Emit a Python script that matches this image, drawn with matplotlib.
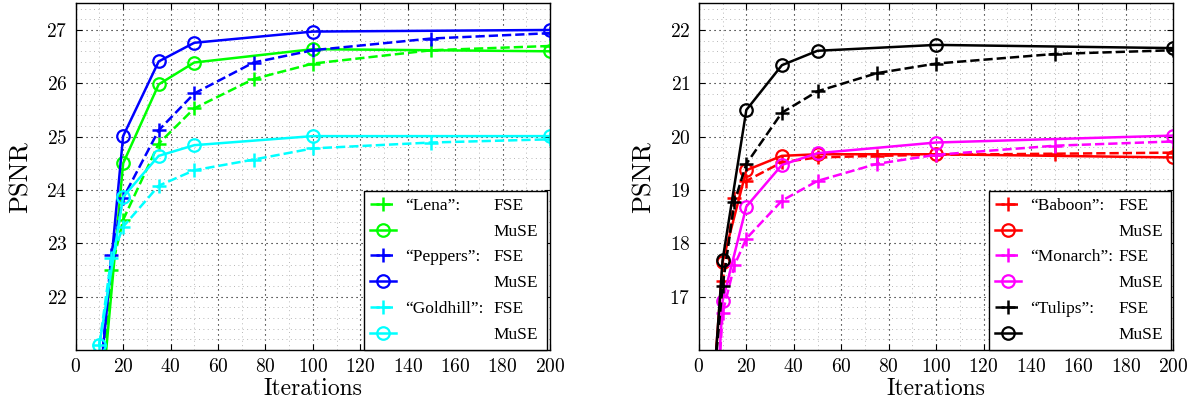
import matplotlib
matplotlib.use('Agg')
import matplotlib.pyplot as plt
from matplotlib.ticker import MultipleLocator

plt.rcParams['font.family'] = ['Liberation Serif', 'DejaVu Serif']
plt.rcParams['axes.formatter.use_mathtext'] = True

# left panel
iters_fse_left = [10, 15, 20, 35, 50, 75, 100, 150, 200]
iters_muse_left = [10, 20, 35, 50, 100, 200]
lena_fse = [19.6, 22.5, 23.44, 24.87, 25.53, 26.08, 26.37, 26.62, 26.70]
lena_muse = [19.6, 24.5, 25.98, 26.39, 26.64, 26.60]
peppers_fse = [20.3, 22.78, 23.85, 25.12, 25.81, 26.39, 26.62, 26.84, 26.94]
peppers_muse = [20.3, 25.01, 26.41, 26.76, 26.97, 27.0]
goldhill_fse = [21.1, 22.72, 23.31, 24.08, 24.37, 24.57, 24.78, 24.89, 24.95]
goldhill_muse = [21.1, 23.87, 24.64, 24.84, 25.01, 25.01]

# right panel
iters_fse_right = [5, 10, 15, 20, 35, 50, 75, 100, 150, 200]
iters_muse_right = [5, 10, 20, 35, 50, 100, 200]
baboon_fse = [14.8, 17.3, 18.85, 19.17, 19.52, 19.61, 19.64, 19.66, 19.68, 19.70]
baboon_muse = [14.6, 17.65, 19.37, 19.64, 19.67, 19.67, 19.61]
monarch_fse = [13.0, 16.7, 17.59, 18.09, 18.8, 19.17, 19.49, 19.66, 19.83, 19.91]
monarch_muse = [13.0, 16.92, 18.69, 19.47, 19.69, 19.89, 20.02]
tulips_fse = [14.8, 17.2, 18.78, 19.49, 20.45, 20.85, 21.19, 21.37, 21.55, 21.62]
tulips_muse = [14.56, 17.69, 20.5, 21.34, 21.61, 21.72, 21.66]

kinds = ['FSE', 'MuSE'] * 3
names_left = ['\u201cLena\u201d:', '', '\u201cPeppers\u201d:', '', '\u201cGoldhill\u201d:', '']
names_right = ['\u201cBaboon\u201d:', '', '\u201cMonarch\u201d:', '', '\u201cTulips\u201d:', '']

W, H = 1198, 403
LEG_SIZE = 12.5
CM = 'cmr10'


def style_axes(ax, ylim, yticks):
    ax.set_xlim(0, 200)
    ax.set_ylim(*ylim)
    ax.set_xticks(range(0, 201, 20))
    ax.set_yticks(yticks)
    ax.xaxis.set_minor_locator(MultipleLocator(10))
    ax.yaxis.set_minor_locator(MultipleLocator(0.2))
    ax.grid(True, which='major', color='black', linestyle=(0, (1, 3.5)), linewidth=0.8)
    ax.grid(True, which='minor', color='#b8b8b8', linestyle=(0, (1, 3.5)), linewidth=0.7)
    ax.set_axisbelow(True)
    ax.tick_params(which='major', direction='in', top=True, right=True,
                   length=4, width=0.8, labelsize=14, pad=6)
    ax.tick_params(which='minor', length=0)
    for lab in ax.get_xticklabels() + ax.get_yticklabels():
        lab.set_family(CM)
    for s in ax.spines.values():
        s.set_linewidth(1.0)
    ax.set_xlabel('Iterations', fontsize=17, family=CM, labelpad=1)
    ax.set_ylabel('PSNR', fontsize=19, family=CM, labelpad=10)


def draw_series(ax, x_fse, fse, x_muse, muse, color):
    h1, = ax.plot(x_fse, fse, color=color, linestyle='--', linewidth=1.8,
                  marker='+', markersize=10, markeredgewidth=1.8)
    h2, = ax.plot(x_muse, muse, color=color, linestyle='-', linewidth=1.8,
                  marker='o', markersize=9, markeredgewidth=1.6,
                  markerfacecolor='none')
    return [h1, h2]


fig = plt.figure(figsize=(W / 100, H / 100), dpi=100)
ax1 = fig.add_axes([75.7 / W, 1 - 350 / H, (550 - 75.7) / W, (350 - 3.3) / H])
ax2 = fig.add_axes([698.9 / W, 1 - 350 / H, (1173.3 - 698.9) / W, (350 - 3.3) / H])

handles1 = []
handles1 += draw_series(ax1, iters_fse_left, lena_fse, iters_muse_left, lena_muse, '#00ff00')
handles1 += draw_series(ax1, iters_fse_left, peppers_fse, iters_muse_left, peppers_muse, '#0000ff')
handles1 += draw_series(ax1, iters_fse_left, goldhill_fse, iters_muse_left, goldhill_muse, '#00ffff')

handles2 = []
handles2 += draw_series(ax2, iters_fse_right, baboon_fse, iters_muse_right, baboon_muse, '#ff0000')
handles2 += draw_series(ax2, iters_fse_right, monarch_fse, iters_muse_right, monarch_muse, '#ff00ff')
handles2 += draw_series(ax2, iters_fse_right, tulips_fse, iters_muse_right, tulips_muse, 'black')

style_axes(ax1, (21, 27.5), range(22, 28))
style_axes(ax2, (16, 22.5), range(17, 23))

# legend boxes in figure pixels: left, right, bottom (from top)
legends = []
for ax, handles, names, box in [(ax1, handles1, names_left, (364, 547, 349.5)),
                                (ax2, handles2, names_right, (989, 1171, 349.5))]:
    x0, x1, yb = box
    leg = ax.legend(handles, names, loc='lower left', mode='expand',
                    bbox_to_anchor=(x0 / W, 1 - yb / H, (x1 - x0) / W, 0.3),
                    bbox_transform=fig.transFigure, fontsize=LEG_SIZE,
                    handlelength=1.5, handletextpad=0.5, borderpad=0.37,
                    labelspacing=0.56, borderaxespad=0, fancybox=False,
                    edgecolor='black', framealpha=1)
    leg.get_frame().set_linewidth(1.0)
    legends.append((leg, names))

# second legend column (FSE / MuSE) placed after the names
fig.canvas.draw()
for leg, names in legends:
    texts = leg.get_texts()
    boxes = [t.get_window_extent() for t in texts]
    pitch = (boxes[0].y0 - boxes[2].y0) / 2
    x_col = boxes[0].x0 + 88
    for i, kind in enumerate(kinds):
        y = boxes[i].y0 if names[i] else boxes[i - 1].y0 - pitch
        fig.text(x_col / W, y / H, kind, fontsize=LEG_SIZE,
                 ha='left', va='bottom', zorder=10)

fig.savefig('out.png', dpi=100)
